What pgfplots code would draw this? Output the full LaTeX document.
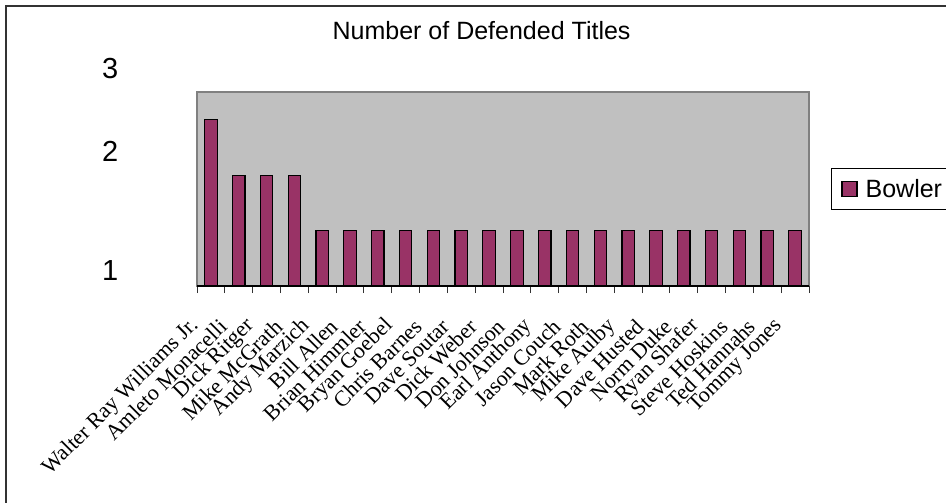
\documentclass[border=0pt]{standalone}
\usepackage{pgfplots}
\pgfplotsset{compat=1.18}
\usepackage{fontspec}
\setmainfont{Liberation Sans}
\newfontfamily\timesf{Liberation Serif}
\definecolor{barc}{HTML}{993366}
\definecolor{plotbg}{HTML}{C0C0C0}
\definecolor{frameg}{HTML}{808080}
\definecolor{border}{HTML}{333333}
\begin{document}
\begin{tikzpicture}
\useasboundingbox (0pt,0pt) rectangle (946pt,-503pt);
\draw[line width=2pt, color=border] (5.5pt,-510pt) -- (5.5pt,-6.5pt) -- (950pt,-6.5pt);
\begin{axis}[
  at={(197pt,-286pt)}, anchor=south west,
  scale only axis, width=612pt, height=194pt,
  xmin=-0.5, xmax=21.5, ymin=0, ymax=3.5,
  clip=false,
  axis background/.style={fill=plotbg, draw=frameg, line width=1.2pt},
  axis x line=bottom, axis y line=none,
  x axis line style={-, black, line width=1.2pt},
  ytick=\empty,
  xtick={0,...,21},
  xticklabels={Walter Ray Williams Jr., Amleto Monacelli, Dick Ritger, Mike McGrath, Andy Marzich, Bill Allen, Brian Himmler, Bryan Goebel, Chris Barnes, Dave Soutar, Dick Weber, Don Johnson, Earl Anthony, Jason Couch, Mark Roth, Mike Aulby, Dave Husted, Norm Duke, Ryan Shafer, Steve Hoskins, Ted Hannahs, Tommy Jones},
  major tick length=0pt,
  minor xtick={-0.5,0.5,...,21.5},
  minor tick length=7pt, tick align=outside,
  minor x tick style={border, line width=1pt},
  xticklabel style={rotate=45, anchor=east, inner sep=0pt, font=\timesf\fontsize{22}{25}\selectfont, xshift=-37pt, yshift=-15pt},
  title={Number of Defended Titles},
  title style={at={(0.465,1.242)}, anchor=base, font=\fontsize{25}{30}\selectfont, inner sep=0pt},
  legend style={at={(1.036,0.5)}, anchor=west, draw=black, line width=0.8pt, fill=white,
    font=\fontsize{25}{30}\selectfont, inner xsep=10pt, inner ysep=9pt},
  legend image code/.code={\draw[#1] (0pt,-7.5pt) rectangle (15pt,7.5pt); \path (21pt,0pt);},
]
\addplot[ybar, bar width=12.5pt, fill=barc, draw=black, line width=1.2pt]
  coordinates {(0,3) (1,2) (2,2) (3,2) (4,1) (5,1) (6,1) (7,1) (8,1) (9,1) (10,1)
  (11,1) (12,1) (13,1) (14,1) (15,1) (16,1) (17,1) (18,1) (19,1) (20,1) (21,1)};
\addlegendentry{Bowler}
\node[font=\fontsize{29}{34}\selectfont] at (axis description cs:-0.142,1.119) {3};
\node[font=\fontsize{29}{34}\selectfont] at (axis description cs:-0.142,0.696) {2};
\node[font=\fontsize{29}{34}\selectfont] at (axis description cs:-0.142,0.082) {1};
\end{axis}
\end{tikzpicture}
\end{document}
